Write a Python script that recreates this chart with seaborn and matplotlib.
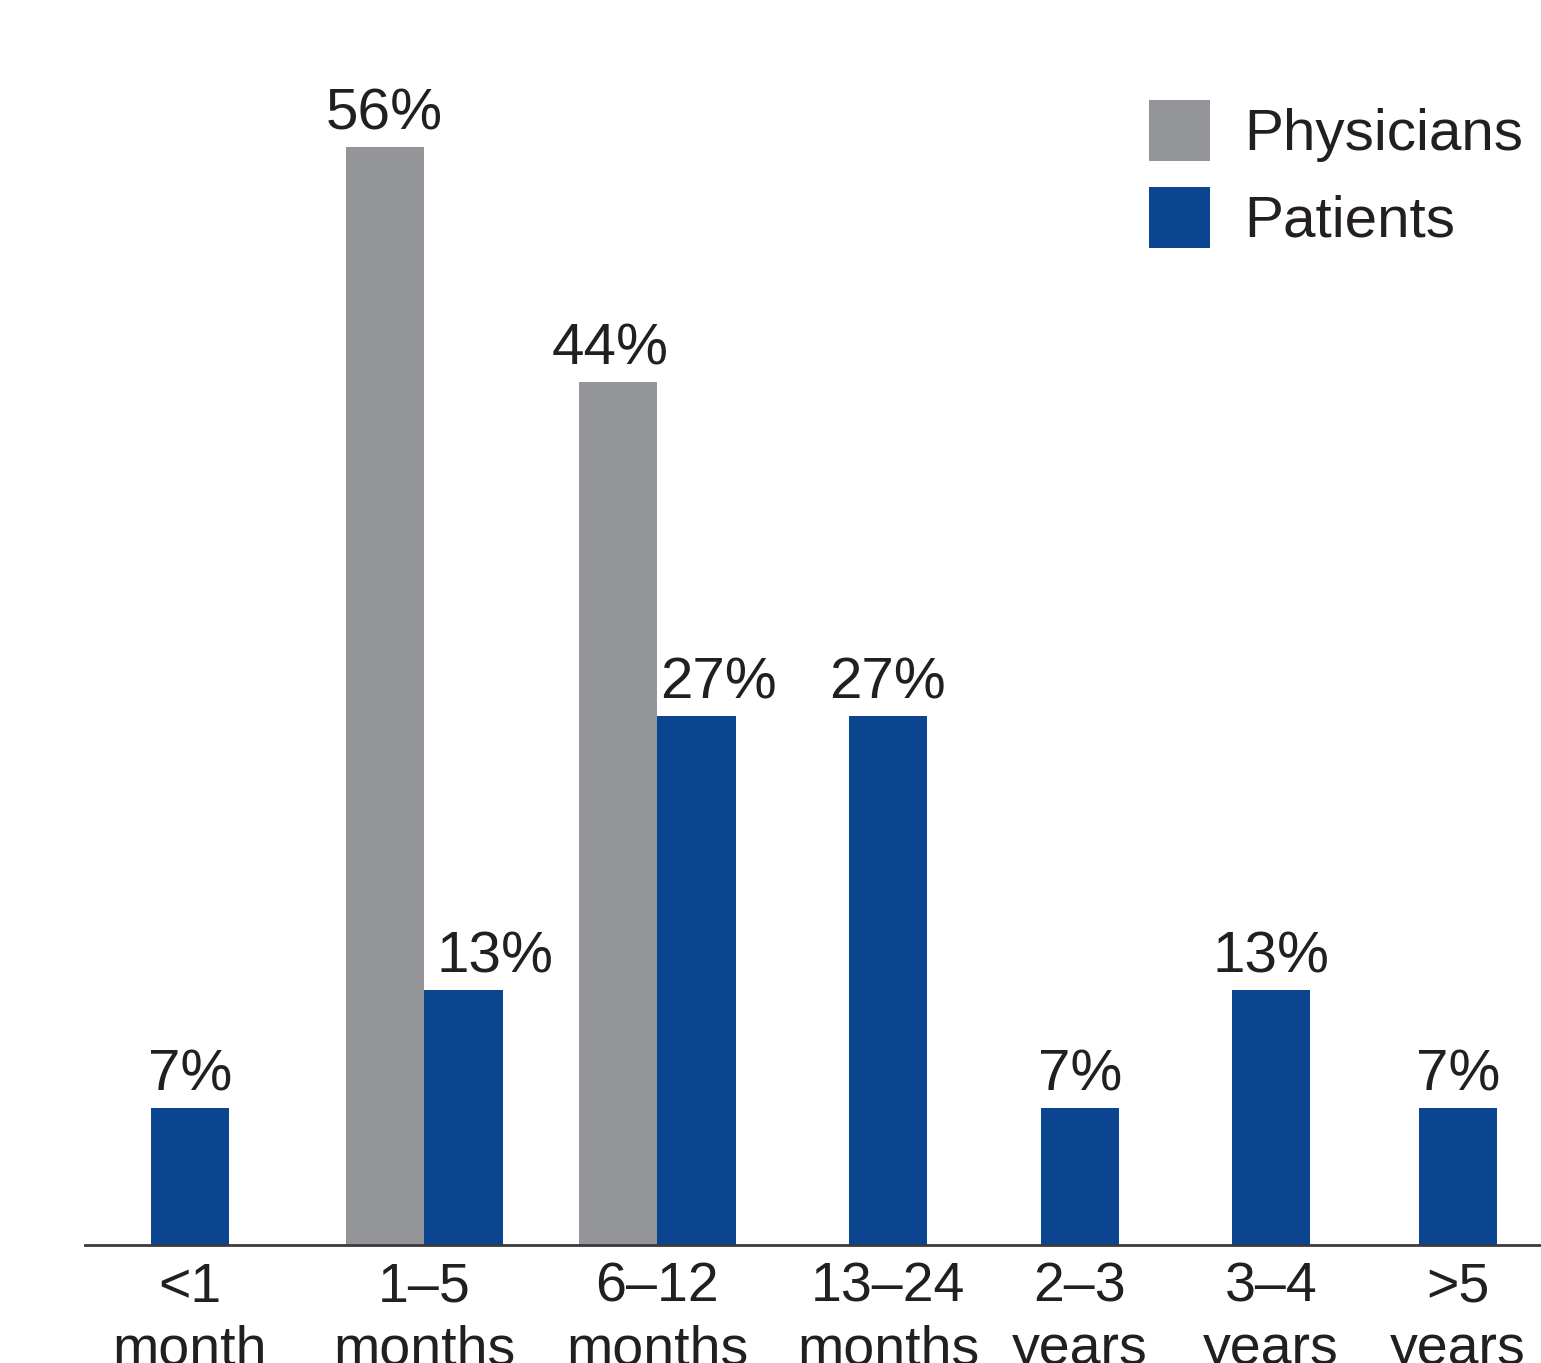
import matplotlib
matplotlib.use("Agg")
import matplotlib.pyplot as plt
import seaborn as sns
import pandas as pd
import numpy as np

# Data
categories = ["<1\nmonth", "1–5\nmonths", "6–12\nmonths", "13–24\nmonths",
              "2–3\nyears", "3–4\nyears", ">5\nyears"]
physicians = [np.nan, 56, 44, np.nan, np.nan, np.nan, np.nan]
patients = [7, 13, 27, 27, 7, 13, 7]
series_names = ["Physicians", "Patients"]

# Layout (x units = pixels across the axes)
slot_centers = [190, 424, 657, 888, 1080, 1271, 1458]
bar_w = 78.5
x_range = (85, 1541)
# horizontal nudges (pixels) for value labels of the paired groups
label_nudge = {("Physicians", 2): -8, ("Patients", 1): 32, ("Patients", 2): 22}

GRAY = "#949599"
BLUE = "#0b458f"
TEXT = "#231f20"

sns.set_theme(style="white")
plt.rcParams["font.family"] = ["Liberation Sans", "DejaVu Sans"]

rows = []
for i, (pos, ph, pa) in enumerate(zip(slot_centers, physicians, patients)):
    paired = not np.isnan(ph)
    if paired:
        rows.append({"x": pos - bar_w / 2, "value": ph, "series": series_names[0], "slot": i})
        rows.append({"x": pos + bar_w / 2, "value": pa, "series": series_names[1], "slot": i})
    else:
        rows.append({"x": pos, "value": pa, "series": series_names[1], "slot": i})
df = pd.DataFrame(rows)

fig = plt.figure(figsize=(15.41, 13.63), dpi=100)
ax = fig.add_axes([85 / 1541, 118 / 1363, 1 - 85 / 1541, 1245 / 1363])

sns.barplot(data=df, x="x", y="value", hue="series", hue_order=series_names,
            palette={series_names[0]: GRAY, series_names[1]: BLUE},
            native_scale=True, dodge=False, width=1.0, saturation=1,
            linewidth=0, ax=ax)

for cont, name in zip(ax.containers, series_names):
    slots = df.loc[df["series"] == name, "slot"].tolist()
    anns = ax.bar_label(cont, labels=[f"{v:.0f}%" for v in cont.datavalues],
                        padding=4, fontsize=42, color=TEXT)
    for ann, slot in zip(anns, slots):
        dx = label_nudge.get((name, slot), 0) * 0.72
        ann.xyann = (dx, ann.xyann[1])

ax.set_xlim(*x_range)
ax.set_ylim(0, 63.5)
ax.set_xticks(slot_centers)
ax.set_xticklabels(categories, fontsize=40, color=TEXT, linespacing=1.27)
ax.set_yticks([])
ax.set_xlabel("")
ax.set_ylabel("")
ax.tick_params(axis="x", length=0, pad=12)
for s in ["top", "right", "left"]:
    ax.spines[s].set_visible(False)
ax.spines["bottom"].set_color("#3a3a3a")
ax.spines["bottom"].set_linewidth(2)

ax.legend(loc="upper left", bbox_to_anchor=(1149 / 1541, 1 - 100 / 1363),
          bbox_transform=fig.transFigure, frameon=False, fontsize=42,
          handlelength=1.046, handleheight=1.232, handletextpad=0.58,
          labelspacing=0.42, borderpad=0, borderaxespad=0,
          labelcolor=TEXT)

fig.savefig("out.png", dpi=100)
